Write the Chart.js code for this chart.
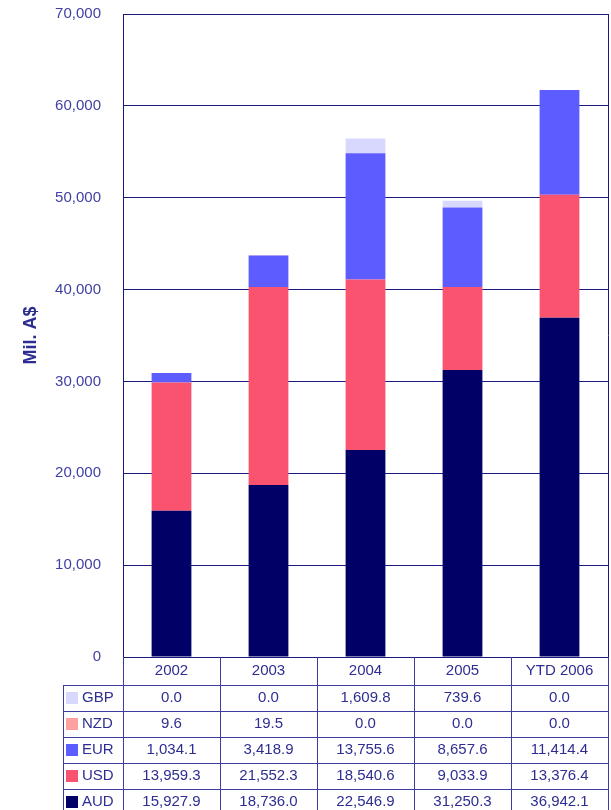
<html>
<head>
    <meta charset="UTF-8">
    <title>Mil. A$ by currency</title>
    <style>
        body { margin: 0; background: #fff; }
        #wrap { width: 611px; height: 810px; }
    </style>
</head>
<body>
    <div id="wrap"><canvas id="fxChart" width="611" height="810"></canvas></div>
    <script src="https://cdn.jsdelivr.net/npm/chart.js"></script>
    <script>
        // categories and series (Mil. A$)
        const years = ['2002', '2003', '2004', '2005', 'YTD 2006'];
        const aud = [15927.9, 18736.0, 22546.9, 31250.3, 36942.1];
        const usd = [13959.3, 21552.3, 18540.6, 9033.9, 13376.4];
        const eur = [1034.1, 3418.9, 13755.6, 8657.6, 11414.4];
        const nzd = [9.6, 19.5, 0.0, 0.0, 0.0];
        const gbp = [0.0, 0.0, 1609.8, 739.6, 0.0];
        const yTicks = [0, 10000, 20000, 30000, 40000, 50000, 60000, 70000];

        const navy = '#1a1a80';
        const tableLine = '#3c3ca0';
        const tickCol = '#4040a4';
        const textCol = '#2e2e92';
        const fontFam = '"Liberation Sans", Arial, sans-serif';

        const series = [
            { label: 'AUD', data: aud, color: '#000066' },
            { label: 'USD', data: usd, color: '#f95370' },
            { label: 'EUR', data: eur, color: '#5c5cff' },
            { label: 'NZD', data: nzd, color: '#ffa0a0' },
            { label: 'GBP', data: gbp, color: '#d8d8ff' }
        ];

        function fmt(v, d) {
            return v.toLocaleString('en-US', { minimumFractionDigits: d, maximumFractionDigits: d });
        }

        // draws the data table under the plot, columns follow the x scale
        const tablePlugin = {
            id: 'dataTable',
            afterDraw(chart) {
                const c = chart.ctx;
                const area = chart.chartArea;
                const xs = chart.scales.x;
                const half = (area.right - area.left) / years.length / 2;
                const labelLeft = 63;
                const headTop = area.bottom;
                const headBottom = headTop + 28;
                const rowH = 26;
                const rows = series.slice().reverse(); // GBP first
                const bottom = 812;

                c.save();
                c.strokeStyle = navy;
                c.lineWidth = 1;

                // right border of the plot
                c.beginPath();
                c.moveTo(area.right + 0.5, area.top);
                c.lineTo(area.right + 0.5, area.bottom);
                c.stroke();

                // table lines
                c.strokeStyle = tableLine;
                c.beginPath();
                for (let i = 0; i <= years.length; i++) {
                    const x = Math.round(xs.getPixelForValue(0) - half + i * half * 2) + 0.5;
                    c.moveTo(x, headTop);
                    c.lineTo(x, bottom);
                }
                c.moveTo(labelLeft + 0.5, headBottom);
                c.lineTo(labelLeft + 0.5, bottom);
                for (let r = 0; r < rows.length; r++) {
                    const y = Math.round(headBottom + r * rowH) + 0.5;
                    c.moveTo(labelLeft, y);
                    c.lineTo(area.right + 1, y);
                }
                c.stroke();

                c.font = '15px ' + fontFam;
                c.fillStyle = textCol;
                c.textAlign = 'center';
                c.textBaseline = 'middle';
                years.forEach((y, i) => {
                    c.fillText(y, xs.getPixelForValue(i), (headTop + headBottom) / 2);
                });

                rows.forEach((s, r) => {
                    const cy = headBottom + r * rowH + rowH / 2;
                    c.fillStyle = s.color;
                    c.fillRect(labelLeft + 3, cy - 6, 12, 12);
                    c.fillStyle = textCol;
                    c.textAlign = 'left';
                    c.fillText(s.label, labelLeft + 19, cy);
                    c.textAlign = 'center';
                    s.data.forEach((v, i) => {
                        c.fillText(fmt(v, 1), xs.getPixelForValue(i), cy);
                    });
                });
                c.restore();
            }
        };

        const ctx = document.getElementById('fxChart').getContext('2d');
        const fxChart = new Chart(ctx, {
            type: 'bar',
            data: {
                labels: years,
                datasets: series.map(s => ({
                    label: s.label,
                    data: s.data,
                    backgroundColor: s.color,
                    borderWidth: 0,
                    barPercentage: 0.41,
                    categoryPercentage: 1
                }))
            },
            options: {
                responsive: false,
                animation: false,
                devicePixelRatio: 1,
                layout: { padding: { top: 14, right: 3, bottom: 153, left: 20 } },
                plugins: {
                    legend: { display: false },
                    tooltip: { enabled: false }
                },
                scales: {
                    x: {
                        stacked: true,
                        display: false
                    },
                    y: {
                        stacked: true,
                        min: 0,
                        max: 70000,
                        afterFit(scale) {
                            scale.width = 103;
                            scale.paddingTop = 0;
                            scale.paddingBottom = 0;
                        },
                        afterBuildTicks(scale) { scale.ticks = yTicks.map(v => ({ value: v })); },
                        ticks: {
                            color: tickCol,
                            padding: 22,
                            font: { family: fontFam, size: 15 },
                            callback: v => fmt(v, 0)
                        },
                        grid: { color: navy, lineWidth: 1, drawTicks: false },
                        border: { color: navy, width: 1 },
                        title: {
                            display: true,
                            text: 'Mil. A$',
                            color: textCol,
                            padding: 0,
                            font: { family: fontFam, size: 18, weight: 'bold' }
                        }
                    }
                }
            },
            plugins: [tablePlugin]
        });
    </script>
</body>
</html>
